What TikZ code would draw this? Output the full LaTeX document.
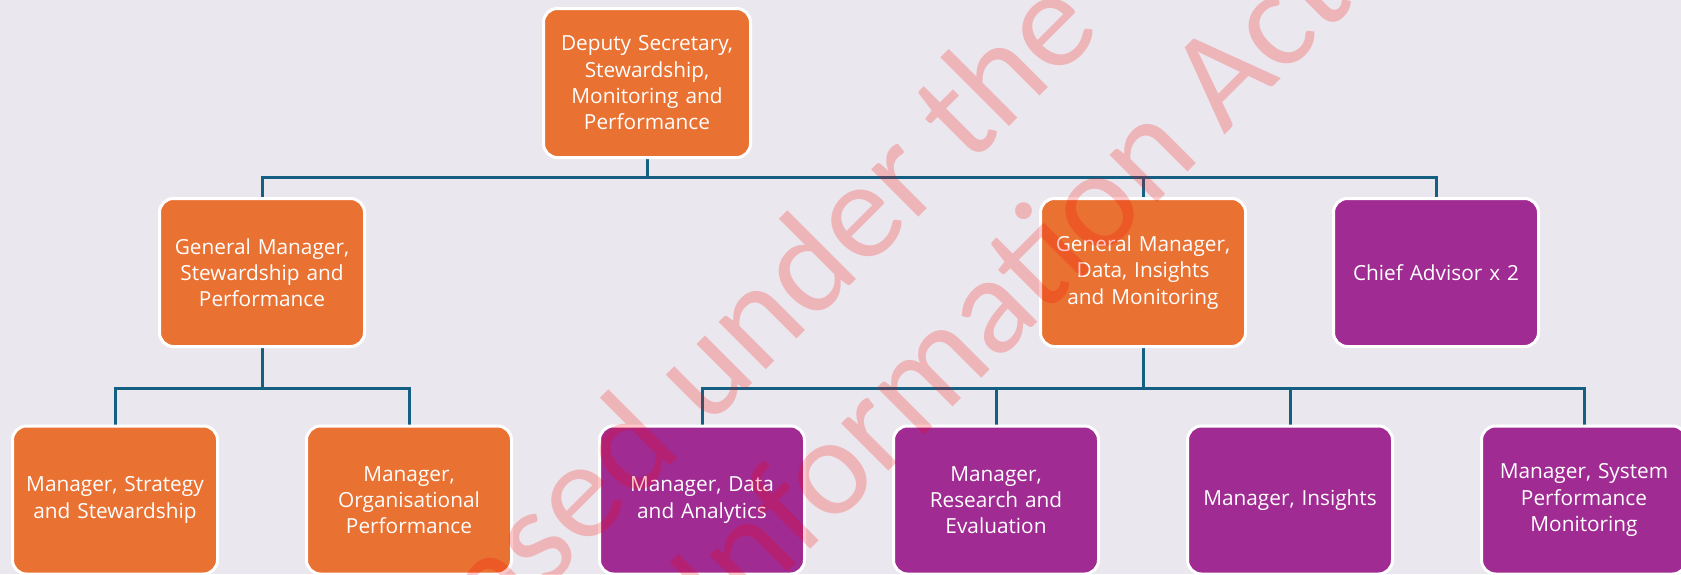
\documentclass[tikz,border=0pt]{standalone}
\usepackage{fontspec}
\usetikzlibrary{backgrounds}
\newfontfamily\boxfont{Open Sans}
\newfontfamily\wmfont{Carlito}
\definecolor{bgcol}{RGB}{234,232,238}
\definecolor{orgcol}{HTML}{E97132}
\definecolor{purcol}{HTML}{A02B93}
\definecolor{linecol}{HTML}{156082}
\tikzset{
  orgbox/.style={draw=white, line width=3, rounded corners=14, fill=orgcol,
    minimum width=205, minimum height=148, text width=196, align=center,
    text=white, inner sep=0, font=\boxfont\fontsize{20.8}{26.3}\selectfont},
  purbox/.style={orgbox, fill=purcol},
  conn/.style={draw=linecol, line width=3},
  wm/.style={text=red, opacity=0.22, rotate=45, inner sep=0,
    font=\wmfont\fontsize{140}{160}\selectfont}
}
\begin{document}
\begin{tikzpicture}[x=1pt,y=-1pt]
\useasboundingbox (0,0) rectangle (1681,574);
\begin{scope}
\clip (0,0) rectangle (1681,574);
% level 1
\node[orgbox, minimum width=207, minimum height=149] (top) at (647,83)
  {Deputy Secretary,\\Stewardship,\\Monitoring and\\Performance};
% level 2
\node[orgbox] (gm1) at (262,272.5) {General Manager,\\Stewardship and\\Performance};
\node[orgbox] (gm2) at (1143,272.5) {General Manager,\\Data, Insights\\and Monitoring};
\node[purbox] (ca) at (1436,272.5) {Chief Advisor x 2};
% level 3
\node[orgbox] (m1) at (115,500) {Manager, Strategy\\and Stewardship};
\node[orgbox] (m2) at (409,500) {Manager,\\Organisational\\Performance};
\node[purbox] (m3) at (702,500) {Manager, Data\\and Analytics};
\node[purbox] (m4) at (996,500) {Manager,\\Research and\\Evaluation};
\node[purbox] (m5) at (1290,500) {Manager, Insights};
\node[purbox] (m6) at (1584,500) {Manager, System\\Performance\\Monitoring};
% connectors
\begin{scope}[on background layer]
\fill[bgcol] (0,0) rectangle (1681,574);
\coordinate (b1) at (647,177);
\coordinate (b2) at (262,388);
\coordinate (b3) at (1143,388);
\draw[conn] (top.south) -- (b1);
\draw[conn] (gm1.north) |- (b1) -| (ca.north);
\draw[conn] (gm2.north) -- (gm2.north |- b1);
\draw[conn] (gm1.south) -- (b2);
\draw[conn] (m1.north) |- (b2) -| (m2.north);
\draw[conn] (gm2.south) -- (b3);
\draw[conn] (m3.north) |- (b3) -| (m6.north);
\draw[conn] (m4.north) -- (m4.north |- b3);
\draw[conn] (m5.north) -- (m5.north |- b3);
\end{scope}
% watermark
\node[wm, anchor=base east] (wm1) at (1104,32) {Released under the};
\node[wm, anchor=base east] (wm2) at (1357,3) {Official Information Act};
\end{scope}
\end{tikzpicture}
\end{document}
